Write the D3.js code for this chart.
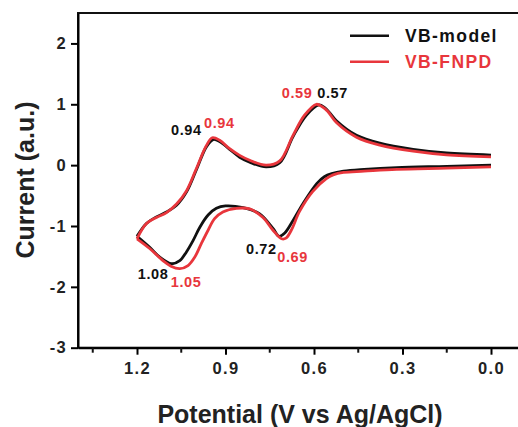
<!DOCTYPE html>
<html>
<head>
<meta charset="utf-8">
<script src="https://cdn.jsdelivr.net/npm/d3@7"></script>
<style>
  body { margin: 0; background: #fff; }
  svg text { font-family: "Liberation Sans", Arial, sans-serif; font-weight: bold; }
</style>
</head>
<body>
<svg id="chart" width="518" height="427"></svg>
<script>
// potential (V), current (a.u.)
var modelLower = [[0.0,0.0],[0.15,-0.02],[0.32,-0.04],[0.43,-0.07],[0.50,-0.10],[0.54,-0.14],[0.565,-0.19],[0.59,-0.30],[0.637,-0.63],[0.671,-0.91],[0.70,-1.12],[0.718,-1.17],[0.739,-1.04],[0.784,-0.80],[0.84,-0.70],[0.90,-0.67],[0.931,-0.71],[0.959,-0.82],[0.987,-1.02],[1.01,-1.24],[1.033,-1.43],[1.055,-1.57],[1.083,-1.62],[1.123,-1.51],[1.157,-1.35],[1.2,-1.17]];
var modelUpper = [[1.2,-1.17],[1.168,-0.96],[1.134,-0.85],[1.10,-0.77],[1.066,-0.66],[1.032,-0.44],[0.999,-0.08],[0.965,0.30],[0.942,0.42],[0.92,0.39],[0.886,0.26],[0.852,0.13],[0.818,0.05],[0.762,-0.03],[0.716,0.04],[0.671,0.47],[0.626,0.82],[0.583,0.99],[0.565,0.95],[0.547,0.86],[0.524,0.73],[0.456,0.49],[0.377,0.36],[0.264,0.26],[0.151,0.20],[0.0,0.165]];
var fnpdLower = [[0.0,-0.03],[0.15,-0.05],[0.32,-0.07],[0.43,-0.10],[0.50,-0.12],[0.535,-0.16],[0.558,-0.22],[0.604,-0.43],[0.649,-0.76],[0.677,-1.07],[0.695,-1.20],[0.71,-1.21],[0.739,-1.07],[0.773,-0.86],[0.818,-0.72],[0.863,-0.71],[0.909,-0.77],[0.937,-0.88],[0.959,-1.07],[0.982,-1.29],[1.004,-1.51],[1.027,-1.65],[1.055,-1.70],[1.085,-1.66],[1.112,-1.57],[1.157,-1.37],[1.2,-1.21]];
var fnpdUpper = [[1.2,-1.21],[1.168,-0.96],[1.134,-0.86],[1.10,-0.78],[1.066,-0.64],[1.032,-0.42],[0.999,-0.06],[0.965,0.32],[0.945,0.45],[0.92,0.41],[0.886,0.27],[0.852,0.16],[0.818,0.08],[0.762,0.0],[0.716,0.07],[0.671,0.49],[0.632,0.82],[0.592,1.0],[0.572,0.96],[0.553,0.88],[0.524,0.70],[0.456,0.46],[0.377,0.33],[0.264,0.23],[0.151,0.17],[0.0,0.135]];

var xTicks = [1.2, 0.9, 0.6, 0.3, 0.0];
var xMinor = [1.35, 1.05, 0.75, 0.45, 0.15];
var yTicks = [-3, -2, -1, 0, 1, 2];

var series = [
  { name: "VB-model", color: "#111111", parts: [modelLower, modelUpper] },
  { name: "VB-FNPD", color: "#e8363c", parts: [fnpdLower, fnpdUpper] }
];

// peak labels: text, peak potential, peak current, series index, anchor
var peakLabels = [
  ["0.94", 0.94, 0.42, 0, "end"], ["0.94", 0.94, 0.45, 1, "start"],
  ["0.57", 0.57, 0.99, 0, "start"], ["0.59", 0.59, 1.0, 1, "end"],
  ["1.08", 1.08, -1.62, 0, "end"], ["1.05", 1.05, -1.70, 1, "start"],
  ["0.72", 0.72, -1.17, 0, "end"], ["0.69", 0.69, -1.21, 1, "start"]
];

var svg = d3.select("#chart");
var mLeft = 78, mTop = 13, mRight = 520.5, mBottom = 347.7;

var x = d3.scaleLinear().domain([1.4, -0.1]).range([mLeft, mRight]);
var y = d3.scaleLinear().domain([-3, 2.5]).range([mBottom, mTop]);

// frame
svg.append("rect")
  .attr("x", mLeft).attr("y", mTop)
  .attr("width", mRight - mLeft).attr("height", mBottom - mTop)
  .attr("fill", "none").attr("stroke", "#111").attr("stroke-width", 2);

var xAxis = svg.append("g")
  .attr("transform", "translate(0," + mBottom + ")")
  .call(d3.axisBottom(x).tickValues(xTicks).tickFormat(d3.format(".1f")).tickSize(7).tickSizeOuter(0));
xAxis.select(".domain").attr("stroke-width", 2);
xAxis.selectAll(".tick line").attr("stroke-width", 2);
xAxis.selectAll(".tick text")
  .attr("y", 15).attr("dy", "0.71em")
  .style("font-size", "16.5px").style("letter-spacing", "1.3px").attr("fill", "#222");

svg.append("g").selectAll("line")
  .data(xMinor)
  .join("line")
  .attr("x1", d => x(d)).attr("x2", d => x(d))
  .attr("y1", mBottom).attr("y2", mBottom + 5)
  .attr("stroke", "#111").attr("stroke-width", 2);

var yAxis = svg.append("g")
  .attr("transform", "translate(" + mLeft + ",0)")
  .call(d3.axisLeft(y).tickValues(yTicks).tickFormat(d3.format("d")).tickSize(7).tickSizeOuter(0));
yAxis.select(".domain").attr("stroke-width", 2);
yAxis.selectAll(".tick line").attr("stroke-width", 2);
yAxis.selectAll(".tick text")
  .attr("x", -11)
  .style("font-size", "16.5px").style("letter-spacing", "1.3px").attr("fill", "#222")
  .text(d => d < 0 ? "-" + Math.abs(d) : d);

// curves
var line = d3.line()
  .x(d => x(d[0]))
  .y(d => y(d[1]))
  .curve(d3.curveCatmullRom.alpha(0.5));

series.forEach(function(s) {
  s.parts.forEach(function(p) {
    svg.append("path")
      .datum(p)
      .attr("d", line)
      .attr("fill", "none")
      .attr("stroke", s.color)
      .attr("stroke-width", 2.8)
      .attr("stroke-linejoin", "round");
  });
});

// peak labels
var labelOffset = {
  "0.94a": [-12, -4.5], "0.94b": [-9.7, -10],
  "0.57": [-5.6, -6.6], "0.59": [-4.6, -6],
  "1.08": [-4, 15.6], "1.05": [-10.5, 18.5],
  "0.72": [-2, 18], "0.69": [-10.2, 23]
};
peakLabels.forEach(function(l) {
  var key = l[0] === "0.94" ? (l[3] === 0 ? "0.94a" : "0.94b") : l[0];
  var off = labelOffset[key];
  svg.append("text")
    .attr("x", x(l[1]) + off[0])
    .attr("y", y(l[2]) + off[1])
    .attr("text-anchor", l[4])
    .style("font-size", "14.5px").style("letter-spacing", "0.6px")
    .attr("fill", series[l[3]].color)
    .text(l[0]);
});

// legend
series.forEach(function(s, i) {
  var ly = 35.7 + i * 26;
  svg.append("line")
    .attr("x1", 350).attr("x2", 389)
    .attr("y1", ly).attr("y2", ly)
    .attr("stroke", s.color).attr("stroke-width", 2.6);
  svg.append("text")
    .attr("x", 405).attr("y", ly + 6.2)
    .style("font-size", "17.5px").style("letter-spacing", "1.4px")
    .attr("fill", s.color)
    .text(s.name);
});

// axis titles
svg.append("text")
  .attr("x", 300).attr("y", 423)
  .attr("text-anchor", "middle")
  .style("font-size", "25px")
  .attr("fill", "#222")
  .text("Potential (V vs Ag/AgCl)");

svg.append("text")
  .attr("transform", "translate(33.5,180) rotate(-90)")
  .attr("text-anchor", "middle")
  .style("font-size", "25px")
  .attr("fill", "#222")
  .text("Current (a.u.)");
</script>
</body>
</html>
